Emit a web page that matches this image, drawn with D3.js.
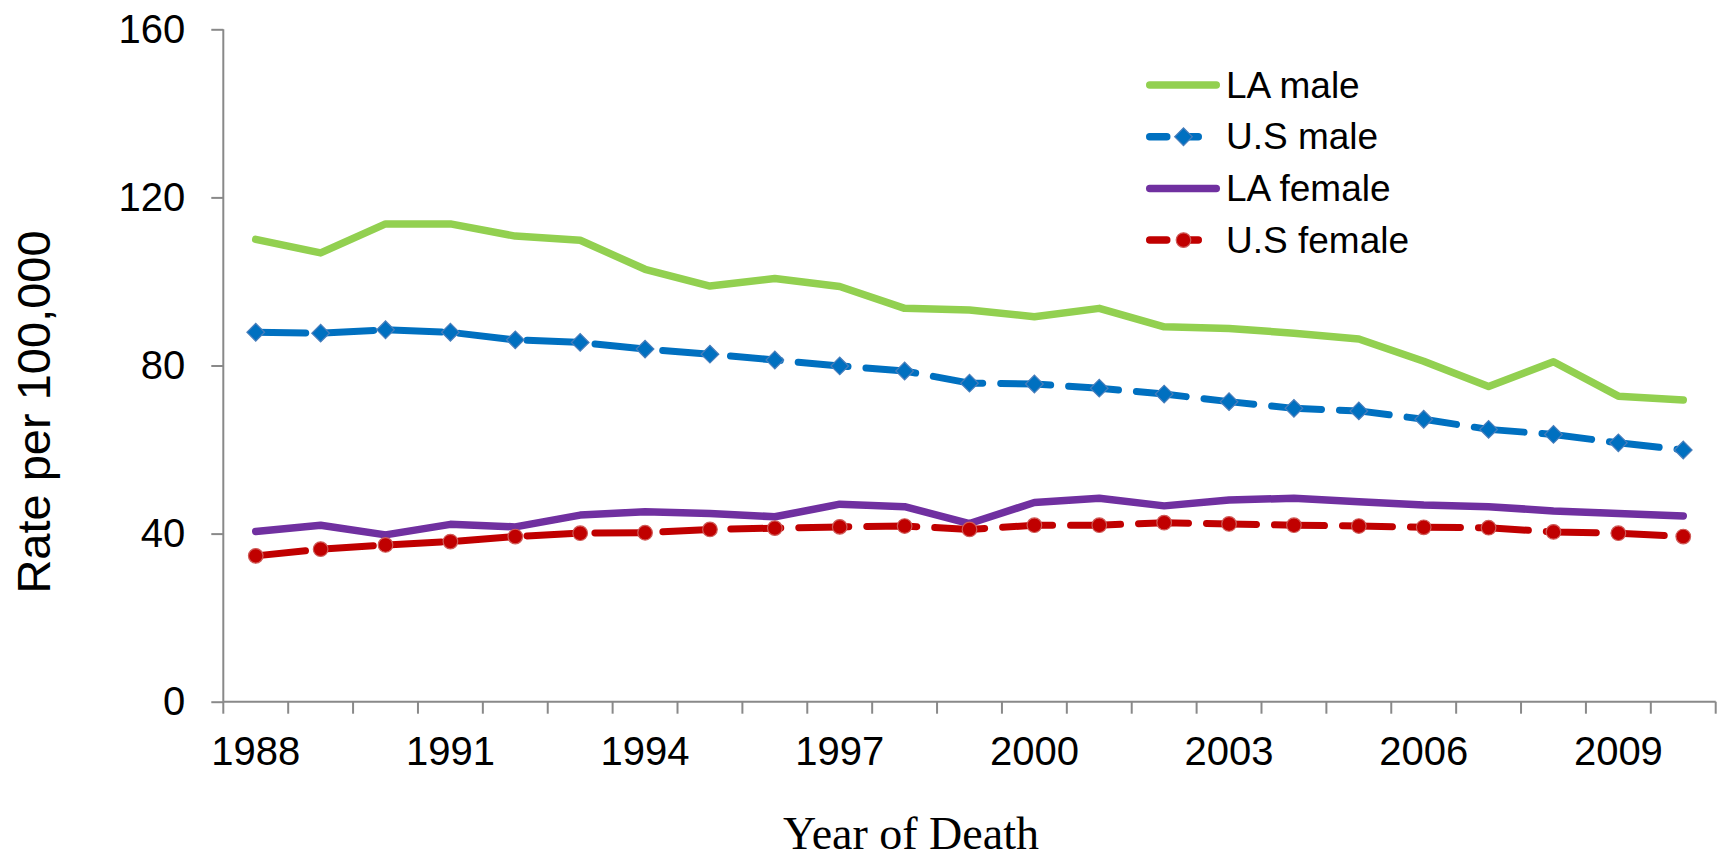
<!DOCTYPE html>
<html>
<head>
<meta charset="utf-8">
<script src="https://cdn.jsdelivr.net/npm/d3@7"></script>
<style>
  html, body { margin: 0; padding: 0; background: #fff; }
  svg { display: block; }
  text { font-family: "Liberation Sans", Arial, sans-serif; fill: #000; }
</style>
</head>
<body>
<svg id="chart" width="1723" height="861"></svg>
<script>
// ---- data ----
const years = d3.range(1988, 2011);
const yearLabels = [1988, 1991, 1994, 1997, 2000, 2003, 2006, 2009];
const yTicks = [0, 40, 80, 120, 160];
const seriesNames = ["LA male", "U.S male", "LA female", "U.S female"];
const laMale   = [110.0, 106.8, 113.7, 113.7, 110.8, 109.8, 102.9, 98.9, 100.7, 98.8, 93.6, 93.2, 91.6, 93.6, 89.2, 88.8, 87.7, 86.3, 81.0, 75.0, 80.9, 72.7, 71.8];
const usMale   = [87.9, 87.7, 88.5, 87.9, 86.1, 85.5, 83.9, 82.7, 81.3, 79.9, 78.7, 75.8, 75.6, 74.6, 73.2, 71.4, 69.8, 69.2, 67.2, 64.8, 63.6, 61.6, 59.9];
const laFemale = [40.5, 42.0, 39.7, 42.2, 41.6, 44.4, 45.2, 44.8, 44.0, 47.0, 46.4, 42.4, 47.4, 48.4, 46.6, 48.0, 48.4, 47.6, 46.8, 46.4, 45.4, 44.8, 44.2];
const usFemale = [34.7, 36.3, 37.3, 38.1, 39.3, 40.1, 40.2, 41.0, 41.3, 41.6, 41.8, 41.0, 42.0, 42.0, 42.6, 42.3, 42.0, 41.8, 41.5, 41.4, 40.4, 40.1, 39.3];

// ---- styling ----
const styles = [
  { values: laMale,   color: "#92D050", dash: null,    marker: null },
  { values: usMale,   color: "#0070C0", dash: "50 18", marker: "diamond", mstroke: "#4A7EBB" },
  { values: laFemale, color: "#7030A0", dash: null,    marker: null },
  { values: usFemale, color: "#C00000", dash: "50 18", marker: "circle", mstroke: "#CF5B58" }
];

(function () {
const pL = 223.3, pR = 1715.7, pT = 29.3, pB = 701.7;
const axisColor = "#898989";
const svg = d3.select("#chart");

const x = d3.scaleBand().domain(years).range([pL, pR]).paddingInner(0).paddingOuter(0);
const y = d3.scaleLinear().domain([0, 160]).range([pB, pT]);
const cx = yr => x(yr) + x.bandwidth() / 2;

// ---- Y axis ----
const yAxis = d3.axisLeft(y).tickValues(yTicks).tickSize(12).tickPadding(26).tickFormat(d3.format("d"));
const gy = svg.append("g").attr("transform", `translate(${pL},0)`).call(yAxis);
gy.select(".domain").attr("stroke", axisColor).attr("stroke-width", 2).attr("d", `M0,${pT}V${pB}`);
gy.selectAll(".tick line").attr("stroke", axisColor).attr("stroke-width", 2);
gy.selectAll(".tick text").style("font-size", "40px").style("font-family", "'Liberation Sans', Arial, sans-serif").attr("fill", "#000");

// ---- X axis ----
const xAxis = d3.axisBottom(x).tickValues(yearLabels).tickSize(0).tickPadding(35).tickFormat(d3.format("d"));
const gx = svg.append("g").attr("transform", `translate(0,${pB})`).call(xAxis);
gx.select(".domain").attr("stroke", axisColor).attr("stroke-width", 2).attr("d", `M${pL},0H${pR}`);
gx.selectAll(".tick text").style("font-size", "40px").style("font-family", "'Liberation Sans', Arial, sans-serif").attr("fill", "#000");
const bounds = years.map(yr => x(yr)).concat([x(years[years.length - 1]) + x.bandwidth()]);
gx.selectAll("line.bt").data(bounds).enter().append("line")
  .attr("class", "bt")
  .attr("x1", d => d).attr("x2", d => d).attr("y1", 0).attr("y2", 12)
  .attr("stroke", axisColor).attr("stroke-width", 2);

// ---- series ----
const line = d3.line().x((d, i) => cx(years[i])).y(d => y(d));

styles.forEach(s => {
  const p = svg.append("path")
    .attr("d", line(s.values))
    .attr("fill", "none")
    .attr("stroke", s.color)
    .attr("stroke-width", s.dash ? 7 : 7.5)
    .attr("stroke-linecap", "round")
    .attr("stroke-linejoin", "round");
  if (s.dash) p.attr("stroke-dasharray", s.dash);
  if (s.marker === "diamond") {
    svg.append("g").selectAll("path").data(s.values).enter().append("path")
      .attr("d", d3.symbol().type(d3.symbolSquare).size(156)())
      .attr("transform", (d, i) => `translate(${cx(years[i])},${y(d)}) rotate(45)`)
      .attr("fill", s.color).attr("stroke", s.mstroke).attr("stroke-width", 1.2);
  } else if (s.marker === "circle") {
    svg.append("g").selectAll("circle").data(s.values).enter().append("circle")
      .attr("cx", (d, i) => cx(years[i])).attr("cy", d => y(d)).attr("r", 7.3)
      .attr("fill", s.color).attr("stroke", s.mstroke).attr("stroke-width", 1.2);
  }
});

// ---- legend ----
const legX0 = 1149.75, legX1 = 1216.25, legTextX = 1226, legY0 = 85, legStep = 51.7;
styles.forEach((s, i) => {
  const ly = legY0 + i * legStep;
  const g = svg.append("g");
  if (s.dash) {
    g.append("line").attr("x1", legX0).attr("x2", 1201.5).attr("y1", ly).attr("y2", ly)
      .attr("stroke", s.color).attr("stroke-width", 7.5).attr("stroke-linecap", "round")
      .attr("stroke-dasharray", "17 14.5");
  } else {
    g.append("line").attr("x1", legX0).attr("x2", legX1).attr("y1", ly).attr("y2", ly)
      .attr("stroke", s.color).attr("stroke-width", 7.5).attr("stroke-linecap", "round");
  }
  if (s.marker === "diamond") {
    g.append("path").attr("d", d3.symbol().type(d3.symbolSquare).size(156)())
      .attr("transform", `translate(1183.5,${ly}) rotate(45)`)
      .attr("fill", s.color).attr("stroke", s.mstroke).attr("stroke-width", 1.2);
  } else if (s.marker === "circle") {
    g.append("circle").attr("cx", 1183.5).attr("cy", ly).attr("r", 7.3)
      .attr("fill", s.color).attr("stroke", s.mstroke).attr("stroke-width", 1.2);
  }
  g.append("text").attr("x", legTextX).attr("y", ly + 12.5)
    .style("font-size", "37px").text(seriesNames[i]);
});

// ---- axis titles ----
svg.append("text")
  .attr("transform", "translate(50,412) rotate(-90)")
  .attr("text-anchor", "middle")
  .style("font-size", "47px")
  .text("Rate per 100,000");

svg.append("text")
  .attr("x", 911).attr("y", 849)
  .attr("text-anchor", "middle")
  .style("font-family", "'Liberation Serif', 'Times New Roman', serif")
  .style("font-size", "46px")
  .text("Year of Death");
})();
</script>
</body>
</html>
